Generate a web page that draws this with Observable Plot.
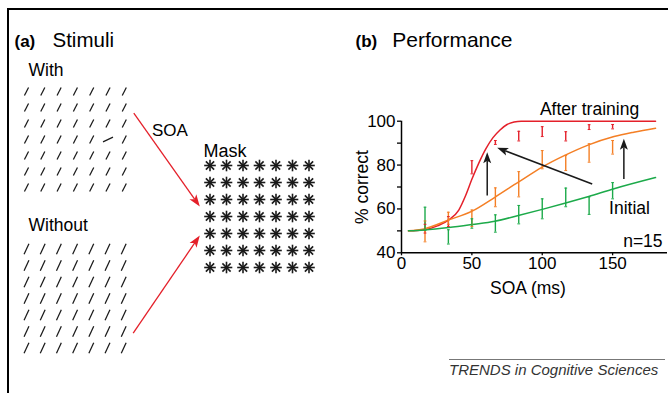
<!DOCTYPE html>
<html><head><meta charset="utf-8">
<script src="https://cdn.jsdelivr.net/npm/d3@7"></script>
<script src="https://cdn.jsdelivr.net/npm/@observablehq/plot@0.6"></script>
<style>
html,body{margin:0;padding:0;background:#fff;}
#fig{position:relative;width:668px;height:393px;overflow:hidden;background:#fff;font-family:"Liberation Sans",Arial,sans-serif;}
#pa{position:absolute;left:0;top:0;}
#pb{position:absolute;left:340px;top:0;}
.frameL{position:absolute;left:7px;top:8px;width:2px;height:385px;background:#000;}
.frameT{position:absolute;left:7px;top:8px;width:661px;height:2px;background:#000;}
.footline{position:absolute;left:449px;top:359px;width:216px;height:1px;background:#777;}
.foottext{position:absolute;left:449px;top:362px;font-style:italic;font-size:15px;line-height:15px;color:#333;white-space:nowrap;}
</style></head>
<body>
<div id="fig">
  <div class="frameL"></div>
  <div class="frameT"></div>
  <div id="pa"></div>
  <div id="pb"></div>
  <div class="footline"></div>
  <div class="foottext">TRENDS in Cognitive Sciences</div>
</div>
<script>
// ---------- Panel (b) data ----------
const soa = [16.7, 33.3, 50, 66.7, 83.3, 100, 116.7, 133.3, 150];
const afterLo = [49, 52, 76, 89.4, 91, 93, 91, 96.2, 96.5];
const afterHi = [53, 56.5, 82, 91.2, 95.4, 97.5, 95.2, 98.4, 98.5];
const midLo = [45, 53, 52, 61, 65.5, 78.3, 77.5, 81.3, 85];
const midHi = [54.5, 58.5, 59.5, 69.6, 77, 86.6, 84.4, 89.7, 91.2];
const initLo = [50.2, 44, 51.2, 49.4, 53.2, 55.5, 61, 57.5, 64.6];
const initHi = [60.8, 50.5, 55.5, 57.3, 61.6, 64.6, 69.5, 65.5, 72];

const afterFitX = [5, 16, 26, 33.6, 40.7, 45.5, 50, 55, 60, 65, 70, 75, 80, 85, 180.5];
const afterFitY = [50, 50.5, 52.4, 55, 59.5, 66, 73.5, 81, 87.5, 92.5, 96, 98.5, 99.6, 100, 100];
const midFitX = [5, 15.9, 33.6, 50.2, 66.3, 83, 100, 116, 133, 151, 165, 180.5];
const midFitY = [50, 50.9, 55, 59, 65.3, 72.2, 79.1, 84.4, 89.2, 93, 95, 96.8];
const initFitX = [5, 16, 33.6, 50.2, 66.3, 83, 100, 116, 133, 151, 180.5];
const initFitY = [50, 50.4, 51.5, 52.9, 54.4, 57, 59.8, 62.6, 65.7, 69.2, 74.3];

const arrowX1 = [60.9, 158, 135.5];
const arrowY1 = [66.1, 73.7, 71.4];
const arrowX2 = [60.9, 158, 68];
const arrowY2 = [85.9, 92, 87.9];

const xTicks = [0, 50, 100, 150];
const yTicks = [40, 50, 60, 70, 80, 90, 100];
const labelText = ["After training", "Initial", "n=15"];

// ---------- Panel (a) stimuli ----------
const withRows = ["///////", "///////", "///////", "/////-/", "///////", "///////", "///////"];
const withoutRows = ["///////", "///////", "///////", "///////", "///////", "///////", "///////"];
const maskRows = ["*******", "*******", "*******", "*******", "*******", "*******", "*******"];

const RED = "#e4202a", ORANGE = "#f47f25", GREEN = "#1caa4a", INK = "#1a1a1a";
const FONT = "'Liberation Sans', Arial, sans-serif";

// arrowhead polygons (computed in pixel space, returned in data space)
function arrowParts(x1s, y1s, x2s, y2s, sx, sy, L, W, N) {
  const heads = [], shafts = [];
  x1s.forEach((_, i) => {
    const ax = sx.apply(x1s[i]), ay = sy.apply(y1s[i]);
    const bx = sx.apply(x2s[i]), by = sy.apply(y2s[i]);
    const len = Math.hypot(bx - ax, by - ay);
    const ux = (bx - ax) / len, uy = (by - ay) / len, nx = -uy, ny = ux;
    const pts = [
      [bx, by],
      [bx - ux * L + nx * W, by - uy * L + ny * W],
      [bx - ux * (L - N), by - uy * (L - N)],
      [bx - ux * L - nx * W, by - uy * L - ny * W]
    ];
    pts.forEach(p => heads.push({x: sx.invert(p[0]), y: sy.invert(p[1]), id: i}));
    shafts.push({x1: x1s[i], y1: y1s[i], x2: sx.invert(bx - ux * (L - N)), y2: sy.invert(by - uy * (L - N))});
  });
  return {heads, shafts};
}

// ---------- Panel (a) ----------
(function () {
  const Wd = 340, Ht = 393;
  const xs = {domain: [0, Wd], range: [0, Wd]};
  const ys = {domain: [0, Ht], range: [0, Ht]};
  const sx = Plot.scale({x: xs}), sy = Plot.scale({y: ys});

  function gridSegs(rows, x0, y0, dx, dy, lenSlash, angSlash, lenDash, angDash) {
    const out = [];
    rows.forEach((row, r) => {
      [...row].forEach((ch, c) => {
        const cx = x0 + c * dx, cy = y0 + r * dy;
        const L = ch === "-" ? lenDash : lenSlash;
        const a = (ch === "-" ? angDash : angSlash) * Math.PI / 180;
        out.push({x1: cx - L / 2 * Math.cos(a), y1: cy + L / 2 * Math.sin(a),
                  x2: cx + L / 2 * Math.cos(a), y2: cy - L / 2 * Math.sin(a)});
      });
    });
    return out;
  }
  const segWith = gridSegs(withRows, 26, 91, 16.3, 16, 9, 63, 11, 25);
  const segWithout = gridSegs(withoutRows, 26, 248.5, 16.2, 16.5, 11.5, 65, 11.5, 65);
  const stars = [];
  maskRows.forEach((row, r) => [...row].forEach((ch, c) => {
    const cx = 209.5 + c * 16.5, cy = 165 + r * 17, R = 5.8;
    [0, 45, 90, 135].forEach(deg => {
      const a = deg * Math.PI / 180;
      stars.push({x1: cx - R * Math.cos(a), y1: cy - R * Math.sin(a), x2: cx + R * Math.cos(a), y2: cy + R * Math.sin(a)});
    });
  }));
  const arr = arrowParts([133.3, 132.7], [112.7, 332.7], [199.3, 199.3], [206, 235], sx, sy, 12, 4.2, 3);

  const texts = [
    {t: "(a)", x: 14, y: 46.7, s: 17, w: "bold"},
    {t: "Stimuli", x: 52, y: 46.7, s: 20.5, w: "normal"},
    {t: "With", x: 28, y: 75, s: 17.5, w: "normal"},
    {t: "Without", x: 28, y: 230, s: 17.5, w: "normal"},
    {t: "SOA", x: 151.5, y: 135, s: 17, w: "normal"},
    {t: "Mask", x: 203, y: 156, s: 18, w: "normal"}
  ];

  const p = Plot.plot({
    width: Wd, height: Ht, margin: 0,
    x: {...xs, axis: null}, y: {...ys, axis: null},
    style: {fontFamily: FONT, background: "transparent", overflow: "visible"},
    marks: [
      Plot.link(segWith, {x1: "x1", y1: "y1", x2: "x2", y2: "y2", stroke: INK, strokeWidth: 1.25}),
      Plot.link(segWithout, {x1: "x1", y1: "y1", x2: "x2", y2: "y2", stroke: INK, strokeWidth: 1.25}),
      Plot.link(stars, {x1: "x1", y1: "y1", x2: "x2", y2: "y2", stroke: INK, strokeWidth: 1.6}),
      Plot.link(arr.shafts, {x1: "x1", y1: "y1", x2: "x2", y2: "y2", stroke: RED, strokeWidth: 1.3}),
      Plot.line(arr.heads, {x: "x", y: "y", z: "id", fill: RED, stroke: "none"}),
      ...texts.map(d => Plot.text([d], {x: "x", y: "y", text: "t", textAnchor: "start", lineAnchor: "bottom",
        fontSize: d.s, fontWeight: d.w, fill: "black"}))
    ]
  });
  document.getElementById("pa").appendChild(p);
})();

// ---------- Panel (b) ----------
(function () {
  const Wd = 328, Ht = 393;
  const xs = {domain: [0, 189], range: [61, 327]};
  const ys = {domain: [40, 100], range: [252.3, 120.7]};
  const sx = Plot.scale({x: xs}), sy = Plot.scale({y: ys});

  const fits = [];
  afterFitX.forEach((x, i) => fits.push({x, y: afterFitY[i], s: "after"}));
  midFitX.forEach((x, i) => fits.push({x, y: midFitY[i], s: "mid"}));
  initFitX.forEach((x, i) => fits.push({x, y: initFitY[i], s: "init"}));
  const bars = [];
  soa.forEach((x, i) => {
    bars.push({x, lo: afterLo[i], hi: afterHi[i], c: RED});
    bars.push({x, lo: midLo[i], hi: midHi[i], c: ORANGE});
    bars.push({x, lo: initLo[i], hi: initHi[i], c: GREEN});
  });
  const caps = [];
  bars.forEach(b => { [b.lo, b.hi].forEach(v => caps.push({x1: b.x - 1, x2: b.x + 1, y: v, c: b.c})); });
  const colorOf = {after: RED, mid: ORANGE, init: GREEN};
  const arr = arrowParts(arrowX1, arrowY1, arrowX2, arrowY2, sx, sy, 11, 4, 2.5);

  const labels = [
    {t: labelText[0], x: 133.6, y: 102.6, a: "middle"},
    {t: labelText[1], x: 162, y: 57.9, a: "middle"},
    {t: labelText[2], x: 185.5, y: 42.6, a: "end"}
  ];
  // axis titles placed through the scales (svg-pixel offsets converted to data)
  const yTitle = {t: "% correct", x: sx.invert(367 - 340), y: sy.invert(186.5)};
  const xTitle = {t: "SOA (ms)", x: sx.invert(527.5 - 340), y: sy.invert(293)};

  const p = Plot.plot({
    width: Wd, height: Ht,
    marginLeft: 61, marginRight: 1, marginTop: 120.7, marginBottom: 140.7,
    x: xs, y: ys,
    style: {fontFamily: FONT, fontSize: "17px", color: "black", background: "transparent", overflow: "visible"},
    marks: [
      Plot.axisY({ticks: yTicks, tickFormat: d => d % 20 ? "" : String(d), tickSize: 4, tickPadding: 2,
        fontSize: 17, label: null, strokeWidth: 1.3}),
      Plot.axisX({ticks: xTicks, tickSize: 3, tickPadding: 1, fontSize: 17, label: null, strokeWidth: 1.3}),
      Plot.ruleY([40], {stroke: "black", strokeWidth: 1.5}),
      Plot.ruleX([0], {y1: 40, y2: 100, stroke: "black", strokeWidth: 1.5}),
      Plot.line(fits, {x: "x", y: "y", z: "s", stroke: d => colorOf[d.s], curve: "monotone-x", strokeWidth: 1.5}),
      Plot.ruleX(bars, {x: "x", y1: "lo", y2: "hi", stroke: "c", strokeWidth: 1.4}),
      Plot.link(caps, {x1: "x1", x2: "x2", y1: "y", y2: "y", stroke: "c", strokeWidth: 1}),
      Plot.link(arr.shafts, {x1: "x1", y1: "y1", x2: "x2", y2: "y2", stroke: INK, strokeWidth: 1.5}),
      Plot.line(arr.heads, {x: "x", y: "y", z: "id", fill: INK, stroke: "none"}),
      ...labels.map(d => Plot.text([d], {x: "x", y: "y", text: "t", textAnchor: d.a, lineAnchor: "bottom", fontSize: 17.5, fill: "black"})),
      Plot.text([yTitle], {x: "x", y: "y", text: "t", rotate: -90, lineAnchor: "bottom", textAnchor: "middle", fontSize: 17.5, fill: "black"}),
      Plot.text([xTitle], {x: "x", y: "y", text: "t", lineAnchor: "bottom", textAnchor: "middle", fontSize: 17.5, fill: "black"}),
      Plot.text(["(b)"], {frameAnchor: "top-left", dx: -46, dy: -74.7, lineAnchor: "bottom", textAnchor: "start", fontSize: 17, fontWeight: "bold", fill: "black"}),
      Plot.text(["Performance"], {frameAnchor: "top-left", dx: -9.3, dy: -74.7, lineAnchor: "bottom", textAnchor: "start", fontSize: 21, fill: "black"})
    ]
  });
  document.getElementById("pb").appendChild(p);
})();
</script>
</body></html>
